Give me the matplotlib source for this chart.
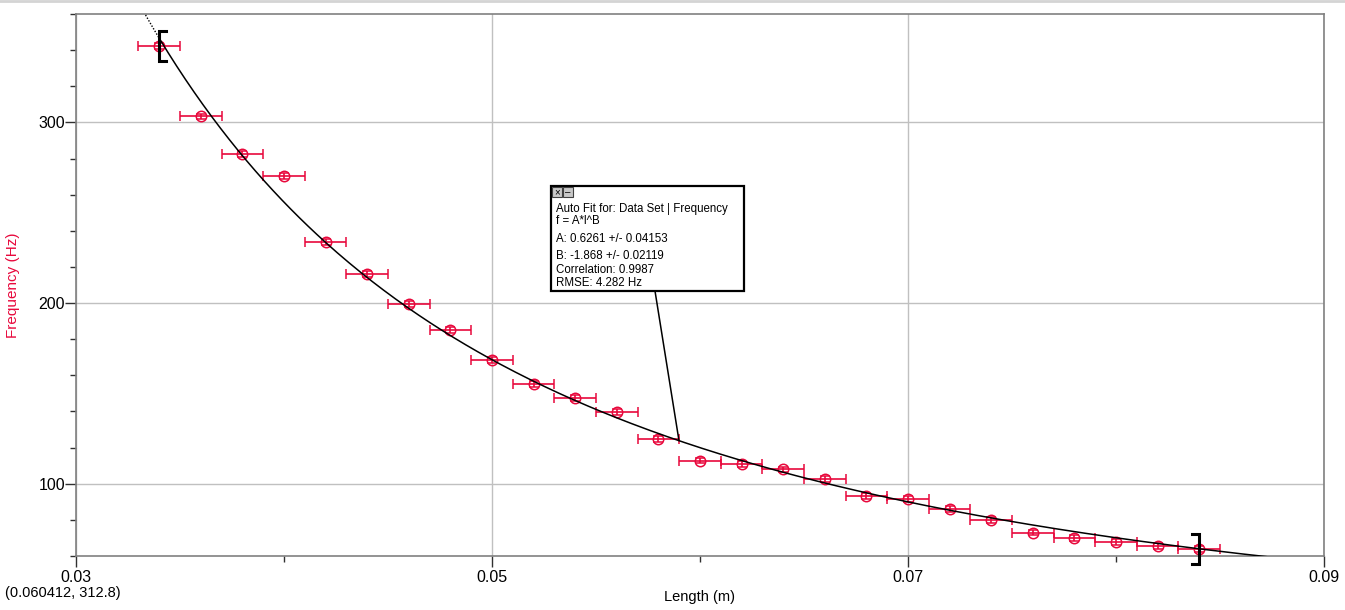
import numpy as np
import matplotlib
matplotlib.use("Agg")
import matplotlib.pyplot as plt
from matplotlib.patches import Rectangle
from matplotlib.ticker import MultipleLocator, FixedLocator

plt.rcParams['font.family'] = ['Liberation Sans', 'DejaVu Sans']

# ---- data ----
length_m = [0.034, 0.036, 0.038, 0.040, 0.042, 0.044, 0.046, 0.048, 0.050, 0.052,
            0.054, 0.056, 0.058, 0.060, 0.062, 0.064, 0.066, 0.068, 0.070, 0.072,
            0.074, 0.076, 0.078, 0.080, 0.082, 0.084]
frequency_hz = [342.3, 303.3, 282.3, 270.3, 233.9, 216.2, 199.6, 185.2, 168.3, 155.0,
                147.3, 139.9, 124.8, 112.8, 111.1, 107.9, 102.8, 93.0, 91.7, 86.1,
                80.1, 73.0, 69.9, 67.8, 65.7, 63.8]
length_err = 0.001
freq_err = 1.6
fit_A = 0.6261
fit_B = -1.868
fit_range = (0.034, 0.084)
fit_lines = ["Auto Fit for: Data Set | Frequency", "f = A*l^B",
             "A: 0.6261 +/- 0.04153", "B: -1.868 +/- 0.02119",
             "Correlation: 0.9987", "RMSE: 4.282 Hz"]
x_ticks = [0.03, 0.05, 0.07, 0.09]
x_tick_labels = ["0.03", "0.05", "0.07", "0.09"]
y_ticks = [100, 200, 300]
cursor_text = "(0.060412, 312.8)"
annot_x = 0.05899

RED = '#E8083C'
W, H = 1345, 610

fig = plt.figure(figsize=(W / 100, H / 100), dpi=100)
ax = fig.add_axes([76 / W, 1 - 556 / H, 1248 / W, 542 / H])

ax.set_xlim(0.03, 0.09)
ax.set_ylim(60, 360)

# grid
ax.xaxis.set_major_locator(FixedLocator(x_ticks))
ax.xaxis.set_minor_locator(MultipleLocator(0.01))
ax.yaxis.set_major_locator(FixedLocator(y_ticks))
ax.yaxis.set_minor_locator(MultipleLocator(20))
ax.set_xticklabels(x_tick_labels)
ax.grid(True, which='major', color='#C0C0C0', lw=1.0, zorder=0)
ax.set_axisbelow(True)

for s in ax.spines.values():
    s.set_color('#808080')
    s.set_linewidth(1.2)

ax.tick_params(which='major', direction='out', length=8, width=1.0, color='#303030',
               labelsize=11.5, pad=2)
ax.tick_params(axis='y', which='major', pad=0)
ax.tick_params(which='minor', direction='out', length=4, width=1.0, color='#303030')

# data points with error bars
ax.errorbar(length_m, frequency_hz, xerr=length_err, yerr=freq_err, fmt='o',
            mfc='none', mec=RED, ms=7.5, mew=1.1, ecolor=RED, elinewidth=1.2,
            capsize=3.3, capthick=1.2, color=RED, zorder=3)

# fit curve
xs_solid = np.linspace(fit_range[0], 0.09, 400)
ax.plot(xs_solid, fit_A * xs_solid ** fit_B, color='black', lw=1.1, zorder=4)
xs_dot = np.linspace(0.0325, fit_range[0], 50)
ax.plot(xs_dot, fit_A * xs_dot ** fit_B, color='black', lw=1.0, ls=(0, (1, 1.2)), zorder=4)

# range brackets
def bracket(x, yc, side):
    h = 8.2
    arm = 0.00034 * side
    ax.plot([x + arm, x, x, x + arm], [yc + h, yc + h, yc - h, yc - h], color='black',
            lw=2.2, clip_on=False, zorder=5, solid_joinstyle='miter')

bracket(fit_range[0], frequency_hz[0], 1)
bracket(fit_range[1], frequency_hz[-1], -1)

# labels
ax.set_xlabel("Length (m)", fontsize=10.5, labelpad=4)
ax.set_ylabel("Frequency (Hz)", fontsize=11, color=RED)
ax.yaxis.set_label_coords(-0.045, 0.5)

# annotation box
bx0, by0, bx1, by1 = 551, 186, 744, 291
fig.patches.append(Rectangle((bx0 / W, 1 - by1 / H), (bx1 - bx0) / W, (by1 - by0) / H,
                             transform=fig.transFigure, facecolor='white',
                             edgecolor='black', lw=1.6, zorder=10))
# small window icons
for i, sym in enumerate(['×', '–']):
    x0 = 552 + i * 11
    fig.patches.append(Rectangle((x0 / W, 1 - 197 / H), 10 / W, 10 / H,
                                 transform=fig.transFigure, facecolor='#C8C8C8',
                                 edgecolor='#404040', lw=0.8, zorder=11))
    fig.text((x0 + 5) / W, 1 - 192 / H, sym, fontsize=7, ha='center', va='center',
             zorder=12, color='black')

line_y = [209, 221, 239, 256, 270, 283]
for txt, py in zip(fit_lines, line_y):
    fig.text(556 / W, 1 - py / H, txt, fontsize=8.3, ha='left', va='center', zorder=12)

ax.annotate('', xy=(annot_x, fit_A * annot_x ** fit_B), xycoords='data',
            xytext=(655 / W, 1 - 291 / H), textcoords='figure fraction',
            arrowprops=dict(arrowstyle='-', color='black', lw=1.1, shrinkA=0, shrinkB=0),
            zorder=9)

fig.text(5 / W, 1 - 593 / H, cursor_text, fontsize=10.5, ha='left', va='center')

# window top edge
fig.add_artist(plt.Line2D([0, 1], [1 - 1 / H, 1 - 1 / H], transform=fig.transFigure,
                          color='#D4D4D4', lw=2))

fig.savefig('out.png', dpi=100)
